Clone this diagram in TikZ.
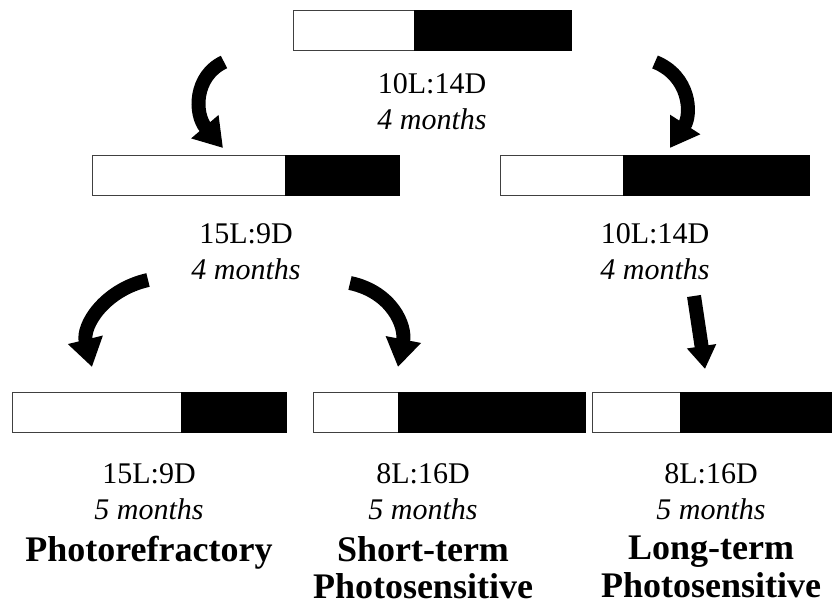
\documentclass[tikz,border=0pt]{standalone}
\usepackage{fontspec}
\setmainfont{Liberation Serif}
\usetikzlibrary{positioning,arrows.meta}

\begin{document}
\begin{tikzpicture}[x=1pt,y=-1pt,
  lit/.style={draw=black!75,fill=white,line width=0.8pt,minimum height=40pt,
              inner sep=0pt,outer sep=0pt,anchor=north west},
  dark/.style={draw=black,fill=black,line width=0.8pt,minimum height=40pt,
               inner sep=0pt,outer sep=0pt},
  cond/.style={font=\fontsize{30}{36.5}\selectfont,align=center,inner sep=0pt,anchor=north},
  fate/.style={font=\fontsize{36}{37.5}\selectfont\bfseries,align=center,inner sep=0pt,anchor=north},
  swoosh/.style={line width=14pt,-{Triangle[length=28pt,width=34pt]}},
  push/.style={line width=14pt,-{Triangle[length=23pt,width=28pt]}}]
  \useasboundingbox (0,0) rectangle (832,612);

  % light:dark bars
  \node[lit,minimum width=121pt] (topL) at (293,10) {};
  \node[dark,minimum width=157pt,right=0pt of topL] (topD) {};
  \node[lit,minimum width=193pt] (midaL) at (92,155) {};
  \node[dark,minimum width=114pt,right=0pt of midaL] (midaD) {};
  \node[lit,minimum width=123pt] (midbL) at (500,155) {};
  \node[dark,minimum width=186pt,right=0pt of midbL] (midbD) {};
  \node[lit,minimum width=169pt] (botaL) at (12,392) {};
  \node[dark,minimum width=105pt,right=0pt of botaL] (botaD) {};
  \node[lit,minimum width=85pt] (botbL) at (313,392) {};
  \node[dark,minimum width=187pt,right=0pt of botbL] (botbD) {};
  \node[lit,minimum width=88pt] (botcL) at (592,392) {};
  \node[dark,minimum width=151pt,right=0pt of botcL] (botcD) {};

  % schedules
  \node[cond] (topT)  at (432,73)  {10L:14D\\\textit{4 months}};
  \node[cond] (midaT) at (246,223) {15L:9D\\\textit{4 months}};
  \node[cond] (midbT) at (655,223) {10L:14D\\\textit{4 months}};
  \node[cond] (botaT) at (149,463) {15L:9D\\\textit{5 months}};
  \node[cond] (botbT) at (423,463) {8L:16D\\\textit{5 months}};
  \node[cond] (botcT) at (711,463) {8L:16D\\\textit{5 months}};

  \node[fate] (refr)  at (149,536) {Photorefractory};
  \node[fate] (short) at (423,536) {Short-term\\Photosensitive};
  \node[fate] (long)  at (711,536) {Long-term\\Photosensitive};

  % transfers
  \coordinate (s1) at (224,62);  \coordinate (e1) at (223,148);
  \coordinate (s2) at (655,62);  \coordinate (e2) at (670,148);
  \coordinate (s3) at (148,280); \coordinate (e3) at (92,367);
  \coordinate (s4) at (350,283); \coordinate (e4) at (398,367);
  \coordinate (s5) at (694,296); \coordinate (e5) at (705,369);
  \draw[swoosh] (s1) .. controls (194,76) and (194,114) .. (e1);
  \draw[swoosh] (s2) .. controls (690,76) and (692,114) .. (e2);
  \draw[swoosh] (s3) .. controls (104,290) and (82,326) .. (e3);
  \draw[swoosh] (s4) .. controls (392,292) and (406,326) .. (e4);
  \draw[push] (s5) -- (e5);
\end{tikzpicture}
\end{document}
